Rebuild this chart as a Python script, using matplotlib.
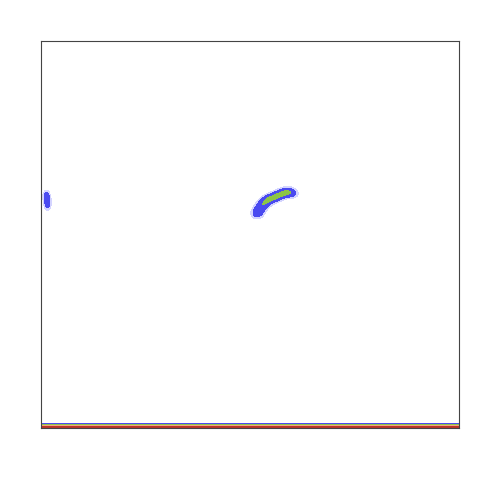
import numpy as np
import matplotlib
matplotlib.use("Agg")
import matplotlib.pyplot as plt
from matplotlib.colors import ListedColormap, BoundaryNorm

# samples (axes run 0..1 on both sides)
streak_x = [0.517, 0.523, 0.531, 0.541, 0.553, 0.566, 0.579, 0.591, 0.602]
streak_y = [0.553, 0.565, 0.578, 0.588, 0.594, 0.600, 0.606, 0.610, 0.606]
streak_w = [0.30, 0.38, 0.38, 0.40, 0.42, 0.42, 0.42, 0.36, 0.22]

edge_x = [0.013, 0.015, 0.016]
edge_y = [0.600, 0.588, 0.575]
edge_w = [0.28, 0.30, 0.20]

floor_x = [-0.05, 0.0, 0.05, 0.10, 0.15, 0.20, 0.25, 0.30, 0.35, 0.40, 0.45,
           0.50, 0.55, 0.60, 0.65, 0.70, 0.75, 0.80, 0.85, 0.90, 0.95, 1.0, 1.05]
floor_y = [0.0] * len(floor_x)
floor_w = [1.5] * len(floor_x)

levels = [0.08, 0.2, 0.52, 1.0, 2.0, 100]
colors = ["#d4d4ff", "#4a4af0", "#8cc447", "#f4a47a", "#b8352a"]

xs = np.linspace(0, 1, 600)
ys = np.linspace(0, 1, 600)
X, Y = np.meshgrid(xs, ys)

def bumps(px, py, pw, sx, sy):
    z = np.zeros_like(X)
    for a, b, w in zip(px, py, pw):
        z += w * np.exp(-((X - a) ** 2 / (2 * sx ** 2) + (Y - b) ** 2 / (2 * sy ** 2)))
    return z

Z = (bumps(streak_x, streak_y, streak_w, 0.009, 0.0075)
     + bumps(edge_x, edge_y, edge_w, 0.005, 0.009)
     + bumps(floor_x, floor_y, floor_w, 0.04, 0.0045))

fig = plt.figure(figsize=(4.8, 4.8), dpi=100)
ax = fig.add_axes([41 / 480, 52 / 480, 418 / 480, 387 / 480])
cmap = ListedColormap(colors)
norm = BoundaryNorm(levels, cmap.N)
ax.contourf(X, Y, Z, levels=levels, cmap=cmap, norm=norm)
ax.set_xlim(0, 1)
ax.set_ylim(0, 1)
ax.set_xticks([])
ax.set_yticks([])
for s in ax.spines.values():
    s.set_linewidth(0.8)
    s.set_color("#444444")

fig.savefig("out.png", dpi=100)
